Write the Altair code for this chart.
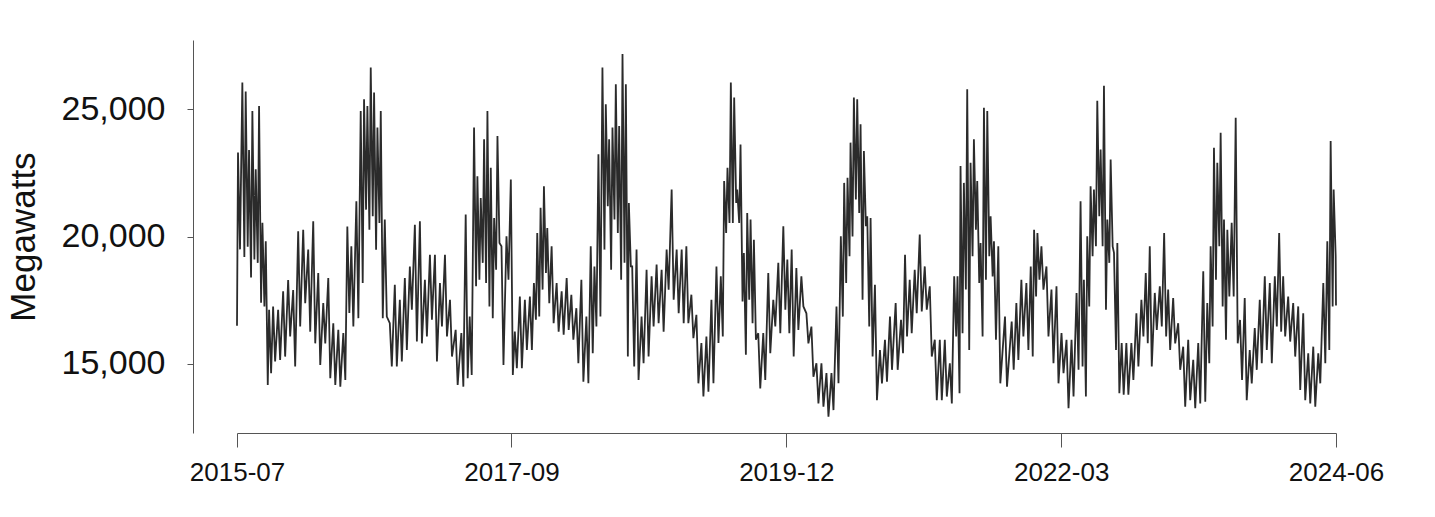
import altair as alt
import pandas as pd

# Day offsets (days since 2015-07-01) of each reading window, with the high and low
# daily demand (MW) read off the reference within that window.
seg_day = [
    6, 19, 29, 39, 49, 59, 69, 79, 89, 99, 111, 126, 141, 156, 171, 186, 201, 216, 231, 246,
    261, 276, 291, 306, 321, 333,
    345, 360, 373, 383, 393, 403, 413, 423, 433, 445, 460, 475, 490, 505, 520, 535, 550, 565,
    580, 595, 610, 625, 640, 657,
    674, 687, 699, 712, 722, 732, 742, 752, 762, 772, 782, 794, 809, 822, 834, 849, 864, 879,
    891, 901, 911, 921, 931, 944, 959, 974, 989,
    1003, 1018, 1033, 1048, 1061, 1072, 1084, 1096, 1106, 1116, 1126, 1136, 1146, 1156, 1166,
    1175, 1185, 1198, 1213, 1228, 1243, 1258, 1273, 1288, 1303, 1318,
    1333, 1347, 1362, 1377, 1392, 1407, 1422, 1437, 1450, 1460, 1470, 1480, 1490, 1499, 1509,
    1519, 1529, 1539, 1549, 1562, 1577, 1592, 1607, 1622, 1637, 1649,
    1662, 1676, 1691, 1706, 1721, 1736, 1751, 1766, 1781, 1796, 1809, 1819, 1829, 1838, 1848,
    1858, 1868, 1878, 1888, 1898, 1911, 1926, 1941, 1956, 1973,
    1989, 2001, 2015, 2030, 2045, 2060, 2075, 2090, 2105, 2120, 2135, 2148, 2158, 2167, 2177,
    2187, 2197, 2207, 2217, 2227, 2237, 2247, 2257, 2267, 2280, 2300,
    2320, 2334, 2349, 2364, 2377, 2387, 2397, 2409, 2424, 2439, 2454, 2469, 2484, 2499, 2514,
    2526, 2536, 2546, 2556, 2566, 2576, 2586, 2596, 2606, 2616, 2626, 2636,
    2649, 2663, 2678, 2693, 2708, 2721, 2733, 2748, 2763, 2776, 2788, 2803, 2818, 2833, 2848,
    2863, 2878, 2893, 2905, 2915, 2925, 2935, 2945, 2955, 2965,
    2978, 2990, 3003, 3017, 3032, 3047, 3062, 3077, 3092, 3107, 3120, 3132, 3147, 3162, 3177,
    3192, 3207, 3222, 3237, 3252, 3264, 3274, 3283,
]
seg_high = [
    23300, 26050, 25700, 23400, 24930, 22640, 25130, 20540, 19820, 17130, 17260, 17130, 17850,
    18300, 17900, 20210, 20270, 19490, 20600, 18570, 17390, 18375, 16600, 16340, 16210, 20400,
    19620, 21390, 24930, 25390, 25130, 26640, 25660, 24280, 24930, 20670, 16600, 18110, 17520,
    18370, 18830, 20470, 20600, 18310, 19290, 19290, 18180, 19290, 17520, 16340,
    16210, 20870, 16860, 24280, 22370, 21520, 23820, 24930, 22700, 20730, 23950, 19620, 20010,
    22240, 16270, 17650, 17520, 17650, 18180, 20140, 21130, 21980, 20340, 19620, 18180, 17850,
    18370,
    17720, 17190, 18310, 16860, 19620, 18830, 23230, 26640, 25200, 23820, 24280, 25980, 24340,
    27170, 25980, 21320, 18830, 19490, 16860, 18700, 18440, 18900, 18700, 19490, 21850, 19490,
    19490, 19620, 17720, 16930, 15820, 16080, 17520, 18830, 18440, 22180, 22700, 26050, 25460,
    21850, 23620, 19360, 20930, 20670, 19880, 16210, 16210, 18570, 17520, 18970, 20410, 19100,
    19490, 18770, 18440, 16990, 16470, 15030, 15030, 14640, 14640, 17260, 20010, 22110, 22310,
    23690, 25460, 25390, 24410, 23360, 20800, 20730, 18110, 15550, 15950, 16860, 17390,
    16730, 19290, 18310, 18700, 20080, 18830, 18050, 15950, 15950, 15950, 15030, 18440, 18440,
    22770, 22110, 25790, 22900, 23820, 22180, 19750, 25060, 24930, 20800, 19820, 19620, 16860,
    16670, 17390, 18310, 18180, 18830, 20270, 20140, 19620, 18830, 17920, 18050, 16210, 15950,
    15950, 17790, 21390, 18310, 20010, 21980, 21850, 25330, 23420, 25920, 20670, 23030, 19360,
    19750,
    15820, 15820, 15820, 16990, 17520, 18570, 19620, 17790, 18050, 20140, 17920, 17590, 16600,
    15680, 15950, 15160, 15820, 18640, 17390, 19620, 23490, 22900, 24080, 20670, 20270,
    20540, 24670, 16730, 17590, 15550, 16410, 17520, 18440, 18180, 18440, 20140, 18440, 17650,
    17390, 17260, 16990, 15420, 15680, 15420, 18180, 19820, 23750, 21850,
]
seg_low = [
    19500, 19200, 19600, 18400, 19100, 18970, 17400, 17260, 14175, 14640, 15100, 15160, 15290,
    16080, 14900, 16470, 17390, 16270, 15810, 14960, 15810, 14440, 14175, 14110, 14370, 17000,
    16470, 16800, 18180, 21060, 20270, 20800, 19490, 20540, 16800, 16860, 14900, 14900, 15100,
    15550, 17130, 15880, 15810, 16080, 16740, 15100, 16470, 16080, 15290, 14175,
    14110, 14440, 14570, 18050, 18310, 18970, 18180, 17260, 16800, 18700, 19750, 14960, 18310,
    14570, 14830, 14830, 15550, 15550, 16740, 16860, 17920, 18570, 17390, 16600, 16270, 16150,
    16340,
    15950, 15030, 14300, 14240, 15420, 16470, 16860, 19490, 21190, 18700, 20670, 20140, 18310,
    18970, 15290, 18830, 14900, 14370, 15030, 15290, 16470, 16600, 16270, 17920, 17520, 16990,
    16600, 16600, 16010, 14240, 13720, 13910, 14240, 15820, 16080, 20140, 20540, 20540, 21320,
    20540, 17450, 15360, 17520, 16600, 15950, 14040, 14370, 15420, 16470, 16210, 17130, 16210,
    15290, 16340, 17260, 15810, 14500, 13450, 13320, 12930, 13190, 14240, 16860, 18180, 19230,
    20010, 21460, 20930, 17520, 20410, 16470, 15290, 13580, 14240, 14300, 14770, 14770,
    15420, 16080, 16210, 16990, 17060, 17130, 15290, 13580, 13580, 13720, 13450, 16080, 13850,
    16210, 17920, 15550, 19230, 20270, 18180, 16080, 18310, 19230, 18440, 15950, 14240, 14110,
    14770, 15160, 16080, 15550, 15290, 17650, 18310, 17920, 16080, 15030, 14240, 14640, 13260,
    13720, 14770, 14900, 13720, 17260, 19230, 19620, 20800, 19620, 17130, 18970, 19620, 15550,
    13850,
    13790, 13790, 14370, 14900, 16080, 15810, 14900, 16340, 16470, 16080, 15550, 15810, 14770,
    13320, 13580, 13260, 13450, 13520, 15030, 16470, 18310, 19620, 17260, 15950, 17650,
    17650, 15810, 14370, 13580, 14240, 14770, 15030, 15550, 15030, 16470, 16270, 16080, 15880,
    15290, 13980, 13580, 13450, 13320, 14240, 15030, 15550, 17260, 19230,
]
first_day, first_mw = 0, 16500
last_day, last_mw = 3287, 17300

y_ticks = [15000, 20000, 25000]
x_tick_days = [0, 821, 1643, 2465, 3287]

start = pd.Timestamp("2015-07-01")
rows = [(first_day, first_mw)]
for d, h, l in zip(seg_day, seg_high, seg_low):
    rows.append((d - 3, h))
    rows.append((d + 3, l))
rows.append((last_day, last_mw))
df = pd.DataFrame(rows, columns=["day", "mw"])
df["date"] = (start + pd.to_timedelta(df["day"], unit="D")).dt.strftime("%Y-%m-%d")


def ms(day):
    return int((start + pd.Timedelta(days=day)).timestamp() * 1000)


tick_ms = [ms(d) for d in x_tick_days]
FONT = "Liberation Sans"

chart = (
    alt.Chart(df)
    .mark_line(color="#2b2b2b", strokeWidth=1.8, strokeJoin="miter")
    .encode(
        x=alt.X(
            "date:T",
            scale=alt.Scale(type="utc", domain=[ms(first_day), ms(last_day)]),
            axis=alt.Axis(
                values=tick_ms,
                labelExpr="utcFormat(datum.value, '%Y-%m')",
                title=None,
                grid=False,
                tickSize=14,
                tickColor="#555555",
                domainColor="#555555",
                labelFont=FONT,
                labelFontSize=26,
                labelColor="#111111",
                labelPadding=12,
                labelFlush=False,
                labelOverlap=False,
            ),
        ),
        y=alt.Y(
            "mw:Q",
            scale=alt.Scale(domain=[12290, 27720], nice=False, zero=False),
            axis=alt.Axis(
                values=y_ticks,
                format=",d",
                title="Megawatts",
                grid=False,
                offset=44,
                tickSize=6,
                tickColor="#555555",
                domainColor="#555555",
                labelFont=FONT,
                labelFontSize=34,
                labelColor="#111111",
                labelPadding=22,
                titleFont=FONT,
                titleFontSize=35,
                titleFontWeight="normal",
                titleColor="#111111",
                titlePadding=20,
            ),
        ),
    )
    .properties(
        width=1099,
        height=393,
        autosize=alt.AutoSizeParams(type="none"),
        padding={"left": 229, "top": 32, "right": 60, "bottom": 70},
    )
    .configure_view(stroke=None)
)

chart.save("out.html", embed_options={"renderer": "svg", "actions": False})
